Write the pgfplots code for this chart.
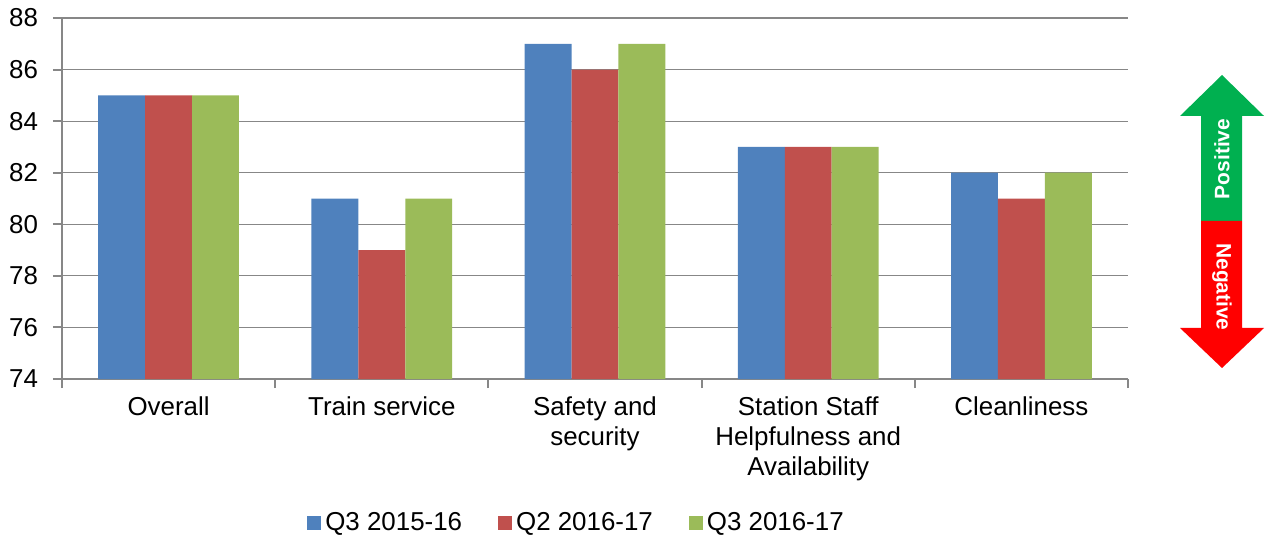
\documentclass[border=0pt]{standalone}
\usepackage{pgfplots}
\pgfplotsset{compat=1.18}
\usepackage{fontspec}
\setmainfont{Liberation Sans}

\definecolor{sblue}{HTML}{4F81BD}
\definecolor{sred}{HTML}{C0504D}
\definecolor{sgreen}{HTML}{9BBB59}
\definecolor{axisgray}{HTML}{878787}
\definecolor{posgreen}{HTML}{00B050}
\definecolor{negred}{HTML}{FF0000}

\begin{document}
\begin{tikzpicture}
\path[use as bounding box] (-31bp,-80bp) rectangle (606bp,189.5bp);
\begin{axis}[
    at={(0,0)}, anchor=south west,
    width=533bp, height=180.5bp, scale only axis,
    xmin=-0.5, xmax=4.5,
    ymin=74, ymax=88,
    ytick={74,76,...,88},
    xtick={0,...,4},
    xticklabels={Overall,Train service,{Safety and\\security},{Station Staff\\Helpfulness and\\Availability},Cleanliness},
    x tick label style={align=center, anchor=north, yshift=-1bp},
    x tick style={draw=none},
    extra x ticks={-0.5,0.5,1.5,2.5,3.5,4.5},
    extra x tick labels={},
    extra x tick style={grid=none, x tick style={draw=axisgray, line width=1bp}},
    y tick style={draw=axisgray, line width=1bp},
    tick align=outside,
    major tick length=4.5bp,
    axis x line*=bottom,
    axis y line*=left,
    axis line style={axisgray, line width=1bp, -},
    ymajorgrids,
    grid style={axisgray, line width=0.6bp},
    ticklabel style={font=\fontsize{13}{15}\selectfont},
    yticklabel style={xshift=-4bp},
    /pgf/number format/assume math mode=true,
    ybar,
    bar width=0.22,
    legend style={at={(0.4836,-0.399)}, anchor=center, draw=none,
        font=\fontsize{13}{15}\selectfont, inner sep=0pt,
        /tikz/every even column/.append style={column sep=16bp}},
    legend columns=3,
    legend image code/.code={\fill[#1] (0bp,-3.5bp) rectangle (7bp,3.5bp);},
]
\addplot[fill=sblue, draw=none, bar shift=-0.22]
    coordinates {(0,85) (1,81) (2,87) (3,83) (4,82)};
\addplot[fill=sred, draw=none, bar shift=0]
    coordinates {(0,85) (1,79) (2,86) (3,83) (4,81)};
\addplot[fill=sgreen, draw=none, bar shift=0.22]
    coordinates {(0,85) (1,81) (2,87) (3,83) (4,82)};
\legend{Q3 2015-16, Q2 2016-17, Q3 2016-17}
\end{axis}

% positive / negative arrow
\fill[posgreen] (569.5bp,79bp) -- (569.5bp,131.5bp) -- (559bp,131.5bp) -- (580bp,152bp)
    -- (601bp,131.5bp) -- (590bp,131.5bp) -- (590bp,79bp) -- cycle;
\fill[negred] (569.5bp,79bp) -- (569.5bp,25.5bp) -- (559bp,25.5bp) -- (580bp,5.5bp)
    -- (601bp,25.5bp) -- (590bp,25.5bp) -- (590bp,79bp) -- cycle;
\node[rotate=90, white, font=\bfseries\fontsize{10.5}{12}\selectfont] at (580bp,110bp) {Positive};
\node[rotate=-90, white, font=\bfseries\fontsize{10.5}{12}\selectfont] at (580bp,46bp) {Negative};
\end{tikzpicture}
\end{document}
